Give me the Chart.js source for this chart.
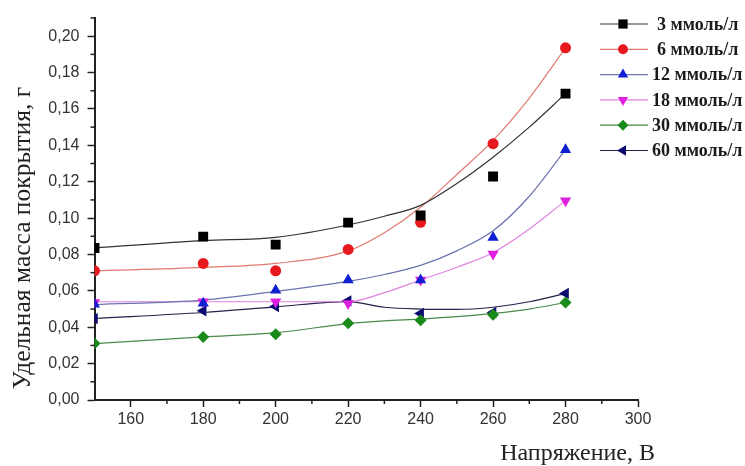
<!DOCTYPE html>
<html>
<head>
<meta charset="utf-8">
<script src="https://cdn.jsdelivr.net/npm/chart.js@4/dist/chart.umd.min.js"></script>
<style>
  html, body { margin: 0; padding: 0; background: #fff; }
  #wrap { width: 745px; height: 466px; }
</style>
</head>
<body>
<div id="wrap"><canvas id="grafico" width="745" height="466"></canvas></div>
<script>
// Данные
const napryazhenie = [150, 180, 200, 220, 240, 260, 280];
const seriesLabels = ['3 ммоль/л', '6 ммоль/л', '12 ммоль/л', '18 ммоль/л', '30 ммоль/л', '60 ммоль/л'];

const massa3  = [0.0836, 0.0898, 0.0854, 0.0975, 0.1014, 0.1229, 0.1684];
const massa6  = [0.0710, 0.0751, 0.0710, 0.0828, 0.0977, 0.1409, 0.1936];
const massa12 = [0.0527, 0.0532, 0.0604, 0.0660, 0.0660, 0.0894, 0.1376];
const massa18 = [0.0536, 0.0540, 0.0540, 0.0530, 0.0660, 0.0803, 0.1096];
const massa30 = [0.0310, 0.0347, 0.0362, 0.0422, 0.0439, 0.0468, 0.0536];
const massa60 = [0.0448, 0.0490, 0.0514, 0.0545, 0.0476, 0.0481, 0.0586];

// Аппроксимирующие кривые (тоже)
const fitX = [150, 180, 200, 220, 230, 240, 250, 260, 270, 280];
const fit3  = [0.0836, 0.0876, 0.0894, 0.0962, 0.1010, 0.1070, 0.1190, 0.1335, 0.1500, 0.1684];
const fit6  = [0.0710, 0.0729, 0.0751, 0.0820, 0.0920, 0.1060, 0.1240, 0.1427, 0.1660, 0.1936];
const fit12 = [0.0525, 0.0549, 0.0597, 0.0652, 0.0690, 0.0740, 0.0820, 0.0930, 0.1120, 0.1376];
const fit18 = [0.0540, 0.0540, 0.0540, 0.0540, 0.0590, 0.0660, 0.0730, 0.0810, 0.0940, 0.1096];
const fit30 = [0.0310, 0.0347, 0.0370, 0.0420, 0.0435, 0.0445, 0.0458, 0.0476, 0.0500, 0.0536];
const fit60 = [0.0448, 0.0481, 0.0512, 0.0541, 0.0510, 0.0500, 0.0498, 0.0510, 0.0540, 0.0586];

const yMajorTicks = [0, 0.02, 0.04, 0.06, 0.08, 0.10, 0.12, 0.14, 0.16, 0.18, 0.20];
const xMajorTicks = [160, 180, 200, 220, 240, 260, 280, 300];

const valores = [massa3, massa6, massa12, massa18, massa30, massa60];
const curvas = [fit3, fit6, fit12, fit18, fit30, fit60];

// Estilos
const estilos = [
  { marker: '#000000', line: '#333333', style: 'rect', rot: 0, r: 7 },
  { marker: '#e8191e', line: '#e07a72', style: 'circle', rot: 0, r: 5.5 },
  { marker: '#1020d0', line: '#6a72b0', style: 'triangle', rot: 0, r: 6.5 },
  { marker: '#e020e0', line: '#e084e0', style: 'triangle', rot: 180, r: 6.5 },
  { marker: '#1a8a1a', line: '#4a8a4a', style: 'rectRot', rot: 0, r: 6 },
  { marker: '#0a0a70', line: '#22224a', style: 'triangle', rot: -90, r: 6.5 }
];

const pares = (xs, ys) => xs.map((x, i) => ({ x: x, y: ys[i] }));

const datasets = [];
curvas.forEach((c, i) => {
  datasets.push({
    label: seriesLabels[i] + ' fit',
    data: pares(fitX, c),
    borderColor: estilos[i].line,
    borderWidth: 1.2,
    pointRadius: 0,
    cubicInterpolationMode: 'monotone',
    fill: false,
    order: 2
  });
});
valores.forEach((v, i) => {
  datasets.push({
    label: seriesLabels[i],
    data: pares(napryazhenie, v),
    showLine: false,
    pointStyle: estilos[i].style,
    pointRotation: estilos[i].rot,
    pointRadius: estilos[i].r,
    pointBackgroundColor: estilos[i].marker,
    pointBorderColor: estilos[i].marker,
    pointBorderWidth: 0,
    order: 1
  });
});

const serif = '"Liberation Serif", "DejaVu Serif", serif';
const sans = '"Liberation Sans", Arial, sans-serif';

const extrasPlugin = {
  id: 'extras',
  afterDraw(chart) {
    const ctx = chart.ctx;
    const xs = chart.scales.x, ys = chart.scales.y;
    ctx.save();
    // minor ticks
    ctx.strokeStyle = '#222';
    ctx.lineWidth = 1.5;
    for (let k = 1; k <= 21; k += 2) {
      const py = ys.getPixelForValue(k / 100);
      ctx.beginPath();
      ctx.moveTo(xs.left - 4, py);
      ctx.lineTo(xs.left, py);
      ctx.stroke();
    }
    for (let v = 170; v < 300; v += 20) {
      const px = xs.getPixelForValue(v);
      ctx.beginPath();
      ctx.moveTo(px, ys.bottom);
      ctx.lineTo(px, ys.bottom + 4);
      ctx.stroke();
    }
    // axis titles
    ctx.fillStyle = '#222';
    ctx.font = '25.5px ' + serif;
    ctx.textAlign = 'center';
    ctx.textBaseline = 'middle';
    ctx.save();
    ctx.translate(23, 238);
    ctx.rotate(-Math.PI / 2);
    ctx.fillText('Удельная масса покрытия, г', 0, 0);
    ctx.restore();
    ctx.font = '24px ' + serif;
    ctx.textAlign = 'right';
    ctx.fillText('Напряжение, В', 655, 454);

    // legend
    const y0 = 24, dy = 25.3;
    seriesLabels.forEach((lab, i) => {
      const y = y0 + dy * i;
      const st = estilos[i];
      ctx.strokeStyle = st.line;
      ctx.lineWidth = 1.2;
      ctx.beginPath();
      ctx.moveTo(600, y);
      ctx.lineTo(648, y);
      ctx.stroke();
      ctx.fillStyle = st.marker;
      ctx.strokeStyle = st.marker;
      Chart.helpers.drawPoint(ctx, {
        pointStyle: st.style, rotation: st.rot, radius: st.r - 0.5, borderWidth: 0
      }, 623, y);
      ctx.fillStyle = '#1a1a1a';
      ctx.font = 'bold 18px ' + serif;
      ctx.textAlign = 'left';
      ctx.textBaseline = 'middle';
      ctx.fillText(lab, i < 2 ? 657 : 652, y + 1);
    });
    ctx.restore();
  }
};

new Chart(document.getElementById('grafico').getContext('2d'), {
  type: 'line',
  data: { datasets: datasets },
  options: {
    responsive: false,
    animation: false,
    layout: { padding: { left: 0, top: 18, right: 107, bottom: 0 } },
    plugins: {
      legend: { display: false },
      tooltip: { enabled: false }
    },
    scales: {
      x: {
        type: 'linear',
        min: 150,
        max: 300,
        afterBuildTicks: (scale) => { scale.ticks = xMajorTicks.map(v => ({ value: v })); },
        afterFit: (scale) => { scale.height = 66; },
        border: { display: true, color: '#222', width: 2 },
        grid: { drawOnChartArea: false, drawTicks: true, tickLength: 7, tickColor: '#222', tickWidth: 1.5 },
        ticks: {
          autoSkip: false,
          maxRotation: 0,
          padding: 3,
          color: '#333',
          font: { family: sans, size: 16 },
          callback: (v) => String(v)
        }
      },
      y: {
        type: 'linear',
        min: 0,
        max: 0.21,
        afterBuildTicks: (scale) => { scale.ticks = yMajorTicks.map(v => ({ value: v })); },
        afterFit: (scale) => { scale.width = 94.5; },
        border: { display: true, color: '#222', width: 2 },
        grid: { drawOnChartArea: false, drawTicks: true, tickLength: 7, tickColor: '#222', tickWidth: 1.5 },
        ticks: {
          autoSkip: false,
          padding: 8,
          color: '#333',
          font: { family: sans, size: 16 },
          callback: (v) => Number(v).toFixed(2).replace('.', ',')
        }
      }
    }
  },
  plugins: [extrasPlugin]
});
</script>
</body>
</html>
